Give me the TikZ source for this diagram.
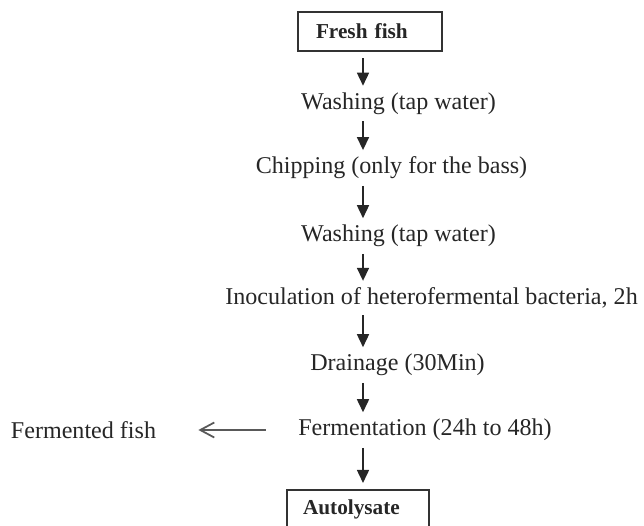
\documentclass[tikz,border=0pt]{standalone}
\usepackage{fontspec}
\setmainfont{Liberation Serif}
\usepackage{xcolor}
\usetikzlibrary{arrows.meta,positioning,calc}

\begin{document}
\begin{tikzpicture}[
  >=Stealth,
  stepnode/.style={inner xsep=0.16cm, inner ysep=0pt, text=black!85,
    font=\fontsize{13.7}{16}\selectfont},
  endbox/.style={draw=black!80, line width=0.6pt, text=black!85,
    minimum height=0.78cm, inner ysep=0pt, align=left,
    font=\fontsize{12.1}{14}\selectfont\bfseries},
  flow/.style={draw=black!85, line width=0.9pt,
    -{Triangle[width=0.24cm,length=0.26cm]},
    shorten <=0.13cm, shorten >=0.13cm},
  sideflow/.style={draw=black!65, line width=1pt,
    -{Straight Barb[width=0.3cm,length=0.28cm]},
    shorten <=0.48cm, shorten >=0.68cm},
]
\useasboundingbox (0,0) rectangle (12.88,10.5);

% Boxes at both ends
\node[endbox, inner xsep=0.36cm, text width=2.16cm] (fresh) at (7.40,9.87) {Fresh fish};
\node[endbox, inner xsep=0.32cm, text width=2.20cm] (auto) at (7.16,0.31) {Autolysate};

% Steps
\node[stepnode] (wash1) at (7.97,8.43) {Washing (tap water)};
\node[stepnode] (chip) at (7.83,7.14) {Chipping (only for the bass)};
\node[stepnode] (wash2) at (7.97,5.78) {Washing (tap water)};
\node[stepnode] (inoc) at (8.63,4.54) {Inoculation of heterofermental bacteria, 2h};
\node[stepnode] (drain) at (7.95,3.20) {Drainage (30Min)};
\node[stepnode] (ferm) at (8.50,1.90) {Fermentation (24h to 48h)};
\node[stepnode] (fermfish) at (1.67,1.90) {Fermented fish};

% Arrows
\coordinate (spine) at (7.26,0);
\foreach \a/\b in {fresh/wash1, wash1/chip, chip/wash2, wash2/inoc,
                   inoc/drain, drain/ferm, ferm/auto} {
  \draw[flow] (\a.south -| spine) -- (\b.north -| spine);
}
\draw[sideflow] (ferm.west) -- (fermfish.east);
\end{tikzpicture}
\end{document}
